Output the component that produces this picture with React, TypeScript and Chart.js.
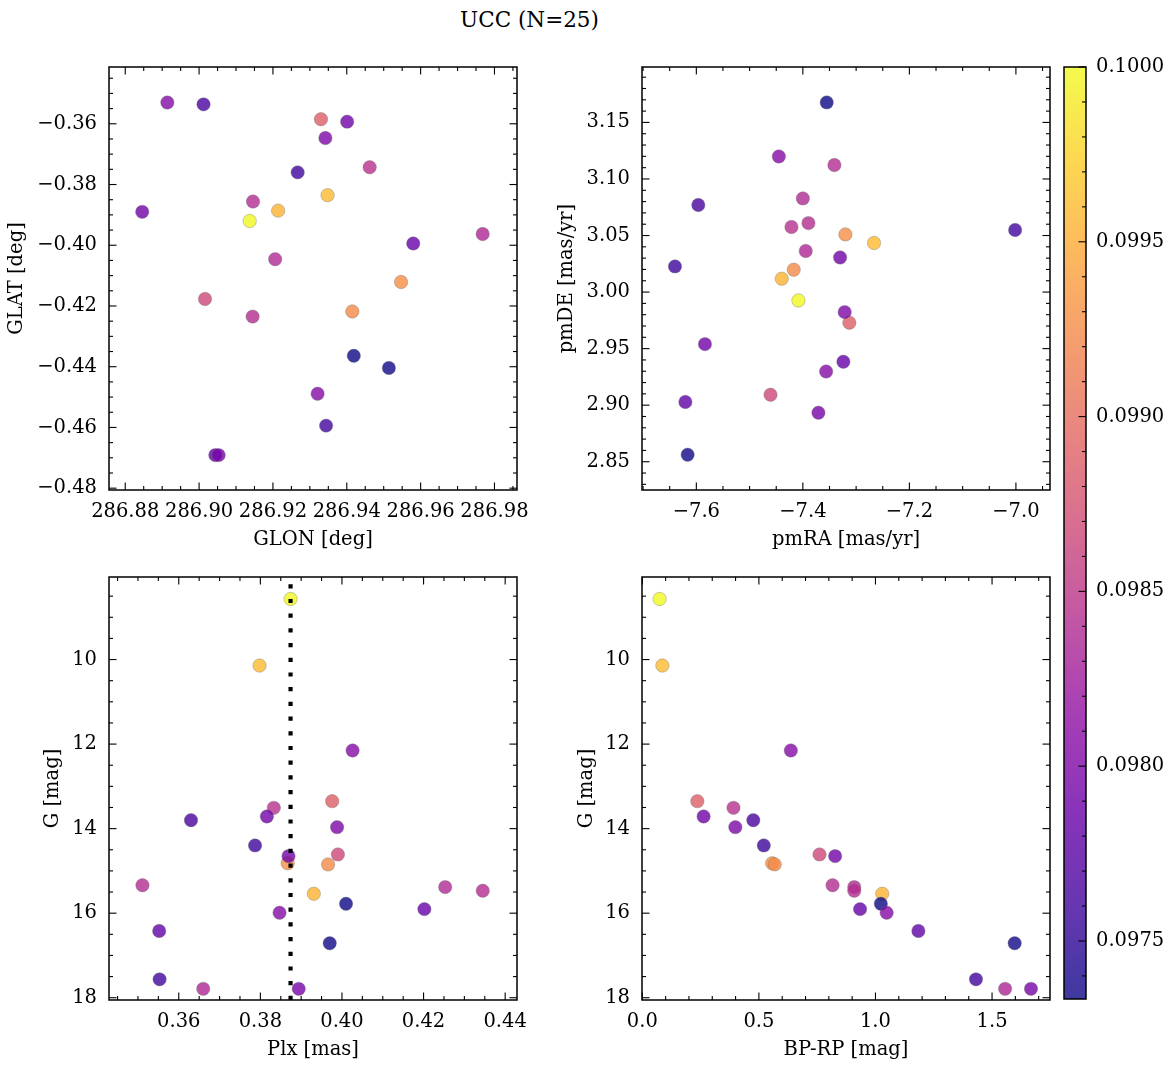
import React, { useEffect, useRef } from "react";
import { Chart, registerables } from "chart.js";

Chart.register(...registerables);

// ---------------- DATA (25 member stars) ----------------
const prob = [
  0.1, 0.0996, 0.09955, 0.09928, 0.09925, 0.09888, 0.09867, 0.09845, 0.0984,
  0.09838, 0.09842, 0.09836, 0.097334, 0.09735, 0.09765, 0.09758, 0.09762,
  0.09805, 0.0979, 0.098, 0.0979, 0.09785, 0.09805, 0.0978, 0.09795,
];
const glon = [
  286.9137, 286.9348, 286.9214, 286.9547, 286.9415, 286.933, 286.9016, 286.9462,
  286.9146, 286.9206, 286.9145, 286.9768, 286.9419, 286.9514, 286.9012, 286.9267,
  286.9344, 286.8914, 286.9401, 286.9342, 286.8846, 286.958, 286.9321, 286.9044,
  286.9053,
];
const glat = [
  -0.392, -0.3835, -0.3886, -0.4121, -0.4218, -0.3585, -0.4177, -0.3743, -0.3856,
  -0.4046, -0.4235, -0.3963, -0.4364, -0.4404, -0.3536, -0.376, -0.4594, -0.353,
  -0.3593, -0.3647, -0.389, -0.3994, -0.4489, -0.4691, -0.4691,
];
const pmra = [
  -7.4083, -7.2664, -7.4396, -7.3201, -7.4171, -7.3127, -7.4607, -7.4214, -7.3408,
  -7.4, -7.3895, -7.3946, -7.3552, -7.6163, -7.5963, -7.6401, -7.0015, -7.4451,
  -7.3301, -7.3215, -7.5838, -7.3239, -7.3563, -7.6206, -7.3708,
];
const pmde = [
  2.9926, 3.0434, 3.0118, 3.051, 3.0198, 2.9729, 2.9092, 3.0575, 3.1123, 3.0828,
  3.061, 3.0363, 3.1677, 2.8562, 3.077, 3.0227, 3.0549, 3.1199, 3.0306, 2.9823,
  2.954, 2.9384, 2.9298, 2.9028, 2.8933,
];
const plx = [
  0.3874, 0.3798, 0.3931, 0.3867, 0.3966, 0.3976, 0.399, 0.3833, 0.3511, 0.4253,
  0.4345, 0.366, 0.401, 0.397, 0.363, 0.3787, 0.3553, 0.4026, 0.3816, 0.3988,
  0.3869, 0.4202, 0.3847, 0.3552, 0.3894,
];
const gmag = [
  8.567, 10.142, 15.54, 14.82, 14.846, 13.35, 14.61, 13.508, 15.34, 15.383, 15.47,
  17.79, 15.778, 16.71, 13.8, 14.397, 17.565, 12.151, 13.712, 13.965, 14.65,
  15.904, 15.99, 16.42, 17.79,
];
const bprp = [
  0.074, 0.086, 1.029, 0.557, 0.568, 0.236, 0.76, 0.391, 0.816, 0.909, 0.909,
  1.556, 1.023, 1.597, 0.476, 0.521, 1.431, 0.637, 0.263, 0.399, 0.827, 0.934,
  1.048, 1.184, 1.667,
];
const plxMedian = 0.3874;

// tick labels
const glonTicks = [286.88, 286.9, 286.92, 286.94, 286.96, 286.98];
const glatTicks = [-0.36, -0.38, -0.4, -0.42, -0.44, -0.46, -0.48];
const pmraTicks = [-7.6, -7.4, -7.2, -7.0];
const pmdeTicks = [2.85, 2.9, 2.95, 3.0, 3.05, 3.1, 3.15];
const plxTicks = [0.36, 0.38, 0.4, 0.42, 0.44];
const gTicks = [10, 12, 14, 16, 18];
const bprpTicks = [0.0, 0.5, 1.0, 1.5];
const cbarTicks = [0.0975, 0.098, 0.0985, 0.099, 0.0995, 0.1];

const TITLE = "UCC (N=25)";

// ---------------- STYLE ----------------
const FONT_FAMILY = "'DejaVu Serif', 'Liberation Serif', serif";
const FS = 19.5;
const FS_LABEL = 19.5;
const ALPHA = 0.8;

const PLASMA: number[][] = [
  [13, 8, 135], [65, 4, 157], [106, 0, 168], [143, 13, 164], [177, 42, 144],
  [204, 71, 120], [225, 100, 98], [242, 132, 75], [252, 166, 54], [252, 206, 37],
  [240, 249, 33],
];
function plasma(t: number, a: number) {
  const tt = Math.max(0, Math.min(1, t)) * (PLASMA.length - 1);
  const i = Math.min(PLASMA.length - 2, Math.floor(tt));
  const f = tt - i;
  const c = PLASMA[i].map((v, k) => Math.round(v + (PLASMA[i + 1][k] - v) * f));
  return `rgba(${c[0]},${c[1]},${c[2]},${a})`;
}
const PMIN = Math.min(...prob);
const PMAX = Math.max(...prob);

const fmt = (v: number, d: number) => v.toFixed(d).replace("-", "\u2212");

function minorValues(min: number, max: number, step: number) {
  const lo = Math.min(min, max), hi = Math.max(min, max);
  const out: number[] = [];
  for (let k = Math.ceil(lo / step - 1e-6); k * step <= hi + 1e-9; k++) out.push(k * step);
  return out;
}

const framePlugin = {
  id: "frame",
  afterDraw(chart: any, _a: any, opts: any) {
    const { ctx, chartArea: a } = chart;
    ctx.save();
    ctx.strokeStyle = "#000";
    ctx.lineWidth = 1.1;
    const MAJ = 7.5, MIN = 4;
    const seg = (x1: number, y1: number, x2: number, y2: number) => {
      ctx.beginPath();
      ctx.moveTo(x1, y1);
      ctx.lineTo(x2, y2);
      ctx.stroke();
    };
    const doAxis = (scale: any, majors: number[], step: number, horiz: boolean, cbar: boolean) => {
      if (!scale) return;
      const mins = minorValues(scale.min, scale.max, step).filter(
        (v) => !majors.some((m) => Math.abs(m - v) < step * 1e-3)
      );
      const list: [number, number][] = [
        ...majors.map((v) => [v, MAJ] as [number, number]),
        ...mins.map((v) => [v, MIN] as [number, number]),
      ];
      for (const [v, len] of list) {
        const p = scale.getPixelForValue(v);
        if (horiz) {
          if (p < a.left - 0.5 || p > a.right + 0.5) continue;
          seg(p, a.bottom, p, a.bottom - len);
          seg(p, a.top, p, a.top + len);
        } else {
          if (p < a.top - 0.5 || p > a.bottom + 0.5) continue;
          if (!cbar) seg(a.left, p, a.left + len, p);
          seg(a.right, p, a.right - len, p);
        }
      }
    };
    if (opts.cbar) {
      doAxis(chart.scales.y, opts.yMajor, opts.yMinor, false, true);
    } else {
      doAxis(chart.scales.x, opts.xMajor, opts.xMinor, true, false);
      doAxis(chart.scales.y, opts.yMajor, opts.yMinor, false, false);
    }
    ctx.lineWidth = 1.5;
    ctx.strokeRect(a.left, a.top, a.right - a.left, a.bottom - a.top);
    ctx.restore();
  },
};

const vlinePlugin = {
  id: "vline",
  afterDatasetsDraw(chart: any, _a: any, opts: any) {
    if (opts.value == null) return;
    const { ctx, chartArea: a } = chart;
    const x = chart.scales.x.getPixelForValue(opts.value);
    ctx.save();
    ctx.strokeStyle = "#000";
    ctx.lineWidth = 4.2;
    ctx.lineCap = "butt";
    ctx.setLineDash([4.2, 10.5]);
    ctx.beginPath();
    ctx.moveTo(x, a.bottom);
    ctx.lineTo(x, a.top);
    ctx.stroke();
    ctx.restore();
  },
};

const cbarPlugin = {
  id: "cbarfill",
  beforeDatasetsDraw(chart: any) {
    const { ctx, chartArea: a } = chart;
    const g = ctx.createLinearGradient(0, a.bottom, 0, a.top);
    PLASMA.forEach((_, i) => {
      const t = i / (PLASMA.length - 1);
      g.addColorStop(t, plasma(t, ALPHA));
    });
    ctx.save();
    ctx.fillStyle = g;
    ctx.fillRect(a.left, a.top, a.right - a.left, a.bottom - a.top);
    ctx.restore();
  },
};

type Spec = {
  left: number; top: number; width: number; height: number;
  area: { l: number; t: number; r: number; b: number };
  xs: number[]; ys: number[];
  xMin: number; xMax: number; yMin: number; yMax: number; yReverse?: boolean;
  xTicks: number[]; yTicks: number[]; xMinor: number; yMinor: number;
  xDec: number; yDec: number;
  xTitle: string; yTitle: string; xTitleX: number; yTitleX: number;
  vline?: number;
};

const font = () => ({ family: FONT_FAMILY, size: FS });
const lfont = () => ({ family: FONT_FAMILY, size: FS_LABEL });

function buildScatter(canvas: HTMLCanvasElement, s: Spec) {
  const colors = prob.map((p) => plasma((p - PMIN) / (PMAX - PMIN), ALPHA));
  const lh = FS_LABEL * 1.2;
  return new Chart(canvas, {
    type: "scatter",
    data: {
      datasets: [
        {
          data: s.xs.map((x, i) => ({ x, y: s.ys[i] })),
          backgroundColor: colors,
          borderColor: "rgba(110,110,110,0.6)",
          borderWidth: 0.6,
          pointRadius: 6.7,
          pointHoverRadius: 6.7,
        },
      ],
    },
    options: {
      responsive: false,
      animation: false,
      events: [],
      layout: {
        autoPadding: false,
        padding: { left: 0, top: s.area.t, right: s.width - s.area.r, bottom: 0 },
      },
      plugins: {
        legend: { display: false },
        tooltip: { enabled: false },
        frame: { xMajor: s.xTicks, yMajor: s.yTicks, xMinor: s.xMinor, yMinor: s.yMinor },
        vline: { value: s.vline ?? null },
      } as any,
      scales: {
        x: {
          type: "linear",
          position: "bottom",
          min: s.xMin,
          max: s.xMax,
          grid: { display: false, drawTicks: false },
          border: { display: false },
          afterBuildTicks: (sc: any) => {
            sc.ticks = s.xTicks.map((v) => ({ value: v }));
          },
          afterFit: (sc: any) => {
            sc.height = s.height - s.area.b;
          },
          ticks: {
            callback: (v: any) => fmt(Number(v), s.xDec),
            font: font(),
            color: "#000",
            padding: 10,
            maxRotation: 0,
            autoSkip: false,
          },
          title: {
            display: true,
            text: s.xTitle,
            font: lfont(),
            color: "#000",
            padding: { top: 0, bottom: s.xTitleX - lh / 2 },
          },
        },
        y: {
          type: "linear",
          position: "left",
          min: s.yMin,
          max: s.yMax,
          reverse: !!s.yReverse,
          grid: { display: false, drawTicks: false },
          border: { display: false },
          afterBuildTicks: (sc: any) => {
            sc.ticks = s.yTicks.map((v) => ({ value: v }));
          },
          afterFit: (sc: any) => {
            sc.width = s.area.l;
          },
          ticks: {
            callback: (v: any) => fmt(Number(v), s.yDec),
            font: font(),
            color: "#000",
            padding: 12,
            autoSkip: false,
          },
          title: {
            display: true,
            text: s.yTitle,
            font: lfont(),
            color: "#000",
            padding: { top: s.yTitleX - lh / 2, bottom: 0 },
          },
        },
      } as any,
    },
    plugins: [framePlugin, vlinePlugin],
  } as any);
}

function buildColorbar(canvas: HTMLCanvasElement, W: number, H: number) {
  return new Chart(canvas, {
    type: "scatter",
    data: { datasets: [] },
    options: {
      responsive: false,
      animation: false,
      events: [],
      layout: { autoPadding: false, padding: { left: 6, top: 27, right: 0, bottom: H - 959 } },
      plugins: {
        legend: { display: false },
        tooltip: { enabled: false },
        frame: { cbar: true, yMajor: cbarTicks, yMinor: 0.0001 },
      } as any,
      scales: {
        x: { display: false, min: 0, max: 1 },
        y: {
          type: "linear",
          position: "right",
          min: PMIN,
          max: PMAX,
          grid: { display: false, drawTicks: false },
          border: { display: false },
          afterBuildTicks: (sc: any) => {
            sc.ticks = cbarTicks.map((v) => ({ value: v }));
          },
          afterFit: (sc: any) => {
            sc.width = W - 28;
          },
          ticks: {
            callback: (v: any) => Number(v).toFixed(4),
            font: font(),
            color: "#000",
            padding: 10,
            autoSkip: false,
          },
        },
      } as any,
    },
    plugins: [cbarPlugin, framePlugin],
  } as any);
}

const SPECS: Spec[] = [
  {
    left: 0, top: 40, width: 545, height: 530,
    area: { l: 109, t: 27, r: 517, b: 450 },
    xs: glon, ys: glat,
    xMin: 286.8756, xMax: 286.9861, yMin: -0.4806, yMax: -0.3413,
    xTicks: glonTicks, yTicks: glatTicks, xMinor: 0.005, yMinor: 0.005,
    xDec: 2, yDec: 2,
    xTitle: "GLON [deg]", yTitle: "GLAT [deg]", xTitleX: 30, yTitleX: 17,
  },
  {
    left: 545, top: 40, width: 513, height: 530,
    area: { l: 97, t: 27, r: 505, b: 450 },
    xs: pmra, ys: pmde,
    xMin: -7.702, xMax: -6.936, yMin: 2.825, yMax: 3.199,
    xTicks: pmraTicks, yTicks: pmdeTicks, xMinor: 0.05, yMinor: 0.01,
    xDec: 1, yDec: 2,
    xTitle: "pmRA [mas/yr]", yTitle: "pmDE [mas/yr]", xTitleX: 30, yTitleX: 22,
  },
  {
    left: 0, top: 550, width: 545, height: 517,
    area: { l: 109, t: 27, r: 517, b: 450 },
    xs: plx, ys: gmag,
    xMin: 0.3429, xMax: 0.4429, yMin: 8.047, yMax: 18.054, yReverse: true,
    xTicks: plxTicks, yTicks: gTicks, xMinor: 0.005, yMinor: 0.5,
    xDec: 2, yDec: 0,
    xTitle: "Plx [mas]", yTitle: "G [mag]", xTitleX: 17, yTitleX: 53,
    vline: plxMedian,
  },
  {
    left: 545, top: 550, width: 513, height: 517,
    area: { l: 97, t: 27, r: 505, b: 450 },
    xs: bprp, ys: gmag,
    xMin: -0.0013, xMax: 1.7485, yMin: 8.047, yMax: 18.054, yReverse: true,
    xTicks: bprpTicks, yTicks: gTicks, xMinor: 0.1, yMinor: 0.5,
    xDec: 1, yDec: 0,
    xTitle: "BP-RP [mag]", yTitle: "G [mag]", xTitleX: 17, yTitleX: 42,
  },
];

function ScatterPanel({ spec }: { spec: Spec }) {
  const ref = useRef<HTMLCanvasElement | null>(null);
  useEffect(() => {
    if (!ref.current) return;
    const ch = buildScatter(ref.current, spec);
    return () => ch.destroy();
  }, [spec]);
  return (
    <canvas
      ref={ref}
      width={spec.width}
      height={spec.height}
      style={{ position: "absolute", left: spec.left, top: spec.top, width: spec.width, height: spec.height }}
    />
  );
}

function ColorbarPanel() {
  const ref = useRef<HTMLCanvasElement | null>(null);
  const W = 115, H = 1000;
  useEffect(() => {
    if (!ref.current) return;
    const ch = buildColorbar(ref.current, W, H);
    return () => ch.destroy();
  }, []);
  return (
    <canvas
      ref={ref}
      width={W}
      height={H}
      style={{ position: "absolute", left: 1058, top: 40, width: W, height: H }}
    />
  );
}

export default function App() {
  return (
    <div
      style={{
        position: "absolute",
        left: 0,
        top: 0,
        width: 1173,
        height: 1067,
        background: "#fff",
        overflow: "hidden",
      }}
    >
      <div
        style={{
          position: "absolute",
          left: 0,
          top: 7,
          width: 1059,
          textAlign: "center",
          fontFamily: FONT_FAMILY,
          fontSize: 21.5,
          lineHeight: "26px",
          color: "#000",
        }}
      >
        {TITLE}
      </div>
      {SPECS.map((s, i) => (
        <ScatterPanel key={i} spec={s} />
      ))}
      <ColorbarPanel />
    </div>
  );
}
